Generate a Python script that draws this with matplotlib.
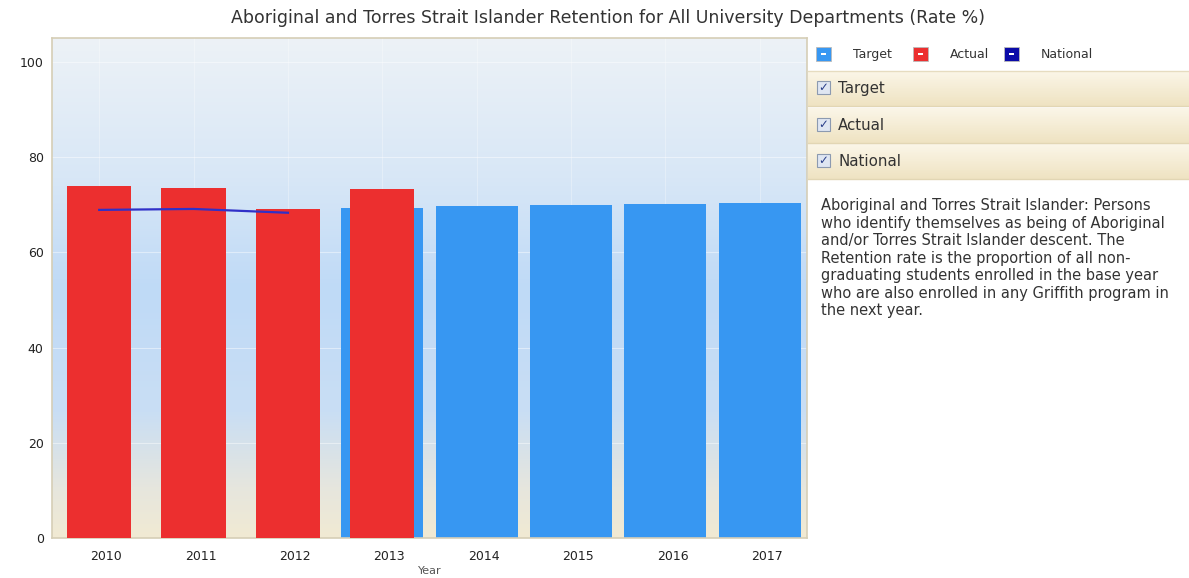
import numpy as np
import matplotlib
matplotlib.use("Agg")
import matplotlib.pyplot as plt
from matplotlib.colors import LinearSegmentedColormap
from matplotlib.patches import Rectangle
from matplotlib.transforms import ScaledTranslation

years = ["2010", "2011", "2012", "2013", "2014", "2015", "2016", "2017"]
target = [np.nan, np.nan, np.nan, 69.4, 69.7, 70.0, 70.1, 70.3]
actual = [73.9, 73.5, 69.1, 73.3, np.nan, np.nan, np.nan, np.nan]
national = [68.9, 69.1, 68.3, np.nan, np.nan, np.nan, np.nan, np.nan]
y_ticks = [0, 20, 40, 60, 80, 100]

title = "Aboriginal and Torres Strait Islander Retention for All University Departments (Rate %)"
note = ("Aboriginal and Torres Strait Islander: Persons\n"
        "who identify themselves as being of Aboriginal\n"
        "and/or Torres Strait Islander descent. The\n"
        "Retention rate is the proportion of all non-\n"
        "graduating students enrolled in the base year\n"
        "who are also enrolled in any Griffith program in\n"
        "the next year.")

BLUE = "#3797f2"
RED = "#ec2f2f"
NAVY = "#0a0aa8"
LINE = "#3030c8"
TXT = "#333333"

W, H = 1189, 578
fig = plt.figure(figsize=(W / 100, H / 100), dpi=100)
fig.patch.set_facecolor("white")

# chart area in pixel terms: left 52, right 807, top 38, bottom 538
ax = fig.add_axes([52 / W, (H - 538) / H, 755 / W, 500 / H])
x = np.arange(len(years))
ymax = 105

# vertical background wash: pale blue-grey top, blue middle, beige floor
bg = LinearSegmentedColormap.from_list(
    "wash",
    [(0.0, "#f1ead3"), (0.1, "#e6e6de"), (0.25, "#c9def4"),
     (0.5, "#bfdaf7"), (0.72, "#d8e7f6"), (1.0, "#edf2f7")])
grad = np.linspace(0, 1, 256).reshape(-1, 1)
ax.imshow(grad, cmap=bg, origin="lower", aspect="auto",
          extent=(-0.5, len(years) - 0.5, 0, ymax), zorder=0)

for yt in y_ticks[1:]:
    ax.axhline(yt, color="white", lw=0.8, alpha=0.45, zorder=1)
for xi in x:
    ax.axvline(xi, color="white", lw=0.8, alpha=0.3, zorder=1)

ax.bar(x, target, width=0.87, color=BLUE, zorder=2)
ax.bar(x, actual, width=0.68, color=RED, zorder=3)
ax.plot(x, national, color=LINE, lw=1.6, zorder=4)

ax.set_xlim(-0.5, len(years) - 0.5)
ax.set_ylim(0, ymax)
ax.set_xticks(x)
ax.set_xticklabels(years)
ax.set_yticks(y_ticks)
ax.tick_params(length=0, labelsize=9, labelcolor="#222222", pad=6)
ax.tick_params(axis="x", pad=9)
for lab in ax.get_xticklabels():
    lab.set_transform(lab.get_transform() + ScaledTranslation(0.07, 0, fig.dpi_scale_trans))
ax.set_xlabel("Year", fontsize=8, color="#555555", labelpad=2)
for sp in ax.spines.values():
    sp.set_color("#d6ceb6")
    sp.set_linewidth(1.2)

fig.text(608 / W, 1 - 18 / H, title, ha="center", va="center",
         fontsize=12.5, color=TXT)

# side panel drawn in pixel coordinates
pan = fig.add_axes([0, 0, 1, 1], zorder=5)
pan.set_xlim(0, W)
pan.set_ylim(H, 0)
pan.axis("off")

# legend strip
for px, col, name in [(816, BLUE, "Target"), (913, RED, "Actual"), (1004, NAVY, "National")]:
    pan.add_patch(Rectangle((px, 47), 15, 14, facecolor=col, edgecolor="#bbbbbb", lw=0.6))
    pan.add_patch(Rectangle((px + 5, 53), 5, 2, facecolor="white", lw=0))
    pan.text(px + 37, 54.5, name, fontsize=9, color=TXT, va="center")

# toggles for each series
rows = [("Target", 71), ("Actual", 108), ("National", 144)]
shade = LinearSegmentedColormap.from_list("row", ["#fbf6e8", "#efe3c2"])
rgrad = np.linspace(0, 1, 64).reshape(-1, 1)
for name, top in rows:
    pan.imshow(rgrad, cmap=shade, aspect="auto", origin="upper",
               extent=(808, W, top + 35, top), zorder=1)
    pan.plot([808, W], [top + 35, top + 35], color="#e2d6b4", lw=1, zorder=2)
    pan.add_patch(Rectangle((817, top + 10), 13, 13, facecolor="#dfe6f2",
                            edgecolor="#8c9ab0", lw=0.8, zorder=3))
    pan.text(823.5, top + 16.5, "\u2713", fontsize=8.5, color="#2a3f8a",
             ha="center", va="center", zorder=4, fontweight="bold")
    pan.text(838, top + 18, name, fontsize=10.8, color=TXT, va="center", zorder=4)
pan.plot([808, W], [71, 71], color="#e6dcc0", lw=1, zorder=2)
pan.set_xlim(0, W)
pan.set_ylim(H, 0)

pan.text(821, 198, note, fontsize=10.55, color=TXT, va="top", ha="left",
         linespacing=1.21)

fig.savefig("out.png", dpi=100)
